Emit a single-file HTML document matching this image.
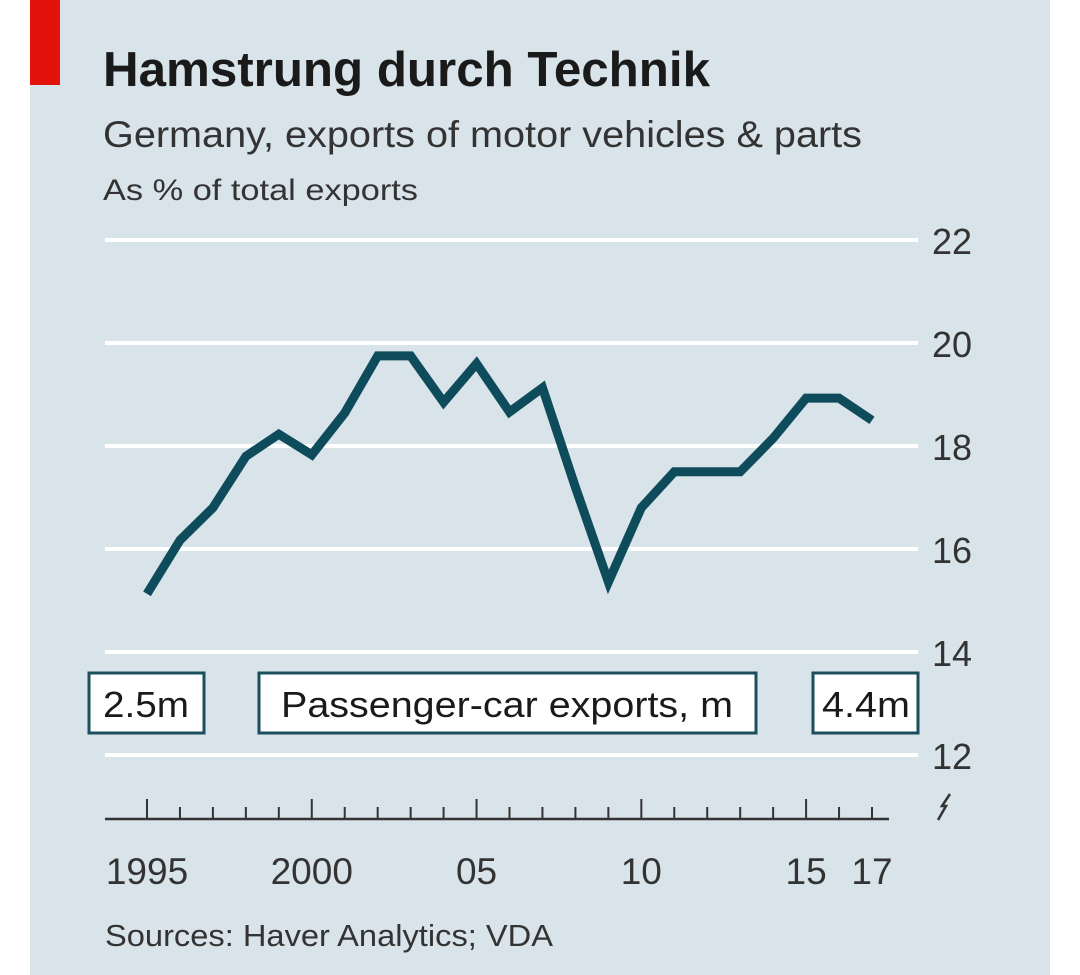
<!DOCTYPE html>
<html><head><meta charset="utf-8"><style>
body{margin:0;background:#fff;}
#wrap{position:relative;width:1080px;height:975px;overflow:hidden;background:#fff;}
svg text{font-family:"Liberation Sans",sans-serif;}
</style></head><body>
<div id="wrap">
<svg id="chart" width="1080" height="975">
<rect x="30" y="0" width="1020" height="975" fill="#d8e3ea"/>
<rect x="30" y="0" width="30" height="85" fill="#e3120b"/>
<text x="103" y="86" font-size="49" font-weight="bold" fill="#1a1a1a" textLength="607" lengthAdjust="spacingAndGlyphs">Hamstrung durch Technik</text>
<text x="103" y="147" font-size="37" fill="#333" textLength="759" lengthAdjust="spacingAndGlyphs">Germany, exports of motor vehicles &amp; parts</text>
<text x="103" y="200" font-size="30" fill="#333" textLength="315" lengthAdjust="spacingAndGlyphs">As % of total exports</text>
<g id="grid"></g>
<g id="xaxis"></g>
<path id="line" fill="none" stroke="#0e4c5c" stroke-width="9" stroke-linejoin="miter"/>
<g>
<rect x="89" y="673" width="115" height="60" fill="#fff" stroke="#1b4f5e" stroke-width="3"/>
<text x="146" y="717" font-size="36" text-anchor="middle" fill="#1a1a1a" textLength="86" lengthAdjust="spacingAndGlyphs">2.5m</text>
<rect x="259" y="673" width="497" height="60" fill="#fff" stroke="#1b4f5e" stroke-width="3"/>
<text x="507" y="717" font-size="36" text-anchor="middle" fill="#1a1a1a" textLength="452" lengthAdjust="spacingAndGlyphs">Passenger-car exports, m</text>
<rect x="813" y="673" width="105" height="60" fill="#fff" stroke="#1b4f5e" stroke-width="3"/>
<text x="866" y="717" font-size="36" text-anchor="middle" fill="#1a1a1a" textLength="88" lengthAdjust="spacingAndGlyphs">4.4m</text>
</g>
<path d="M938 820 L946 806 L942 806 L950 794" fill="none" stroke="#333" stroke-width="2.5"/>
<text x="105" y="946" font-size="31" fill="#333" textLength="448" lengthAdjust="spacingAndGlyphs">Sources: Haver Analytics; VDA</text>
</svg>
</div>
<script>
const years=[1995,1996,1997,1998,1999,2000,2001,2002,2003,2004,2005,2006,2007,2008,2009,2010,2011,2012,2013,2014,2015,2016,2017];
const shareValues=[15.13,16.17,16.8,17.8,18.23,17.83,18.64,19.75,19.75,18.85,19.6,18.66,19.13,17.2,15.36,16.8,17.5,17.5,17.5,18.15,18.93,18.93,18.5];
const yTicks=[12,14,16,18,20,22];
const xLabelYears=[1995,2000,2005,2010,2015,2017];
const xLabelText=["1995","2000","05","10","15","17"];
const NS="http://www.w3.org/2000/svg";
function xs(yr){return 147+(yr-1995)*(872-147)/22;}
function ys(v){return 755-(v-12)*(755-240)/10;}
const grid=document.getElementById('grid');
yTicks.forEach(t=>{
 const l=document.createElementNS(NS,'line');
 l.setAttribute('x1',105);l.setAttribute('x2',918);
 l.setAttribute('y1',ys(t));l.setAttribute('y2',ys(t));
 l.setAttribute('stroke','#fff');l.setAttribute('stroke-width',4);
 
 
 grid.appendChild(l);
 const tx=document.createElementNS(NS,'text');
 tx.setAttribute('x',972);tx.setAttribute('y',ys(t)+14);
 tx.setAttribute('text-anchor','end');tx.setAttribute('font-size',36);tx.setAttribute('fill','#333');
 tx.textContent=t;
 
 
 grid.appendChild(tx);
});
const xa=document.getElementById('xaxis');
const ax=document.createElementNS(NS,'line');
ax.setAttribute('x1',105);ax.setAttribute('x2',889);ax.setAttribute('y1',819);ax.setAttribute('y2',819);
ax.setAttribute('stroke','#333');ax.setAttribute('stroke-width',2.5);


xa.appendChild(ax);
years.forEach(yr=>{
 const major=(yr%5===0);
 const t=document.createElementNS(NS,'line');
 t.setAttribute('x1',xs(yr));t.setAttribute('x2',xs(yr));
 t.setAttribute('y1',major?799:807);t.setAttribute('y2',819);
 t.setAttribute('stroke','#333');t.setAttribute('stroke-width',2);
 
 
 xa.appendChild(t);
});
xLabelYears.forEach((yr,i)=>{
 const tx=document.createElementNS(NS,'text');
 tx.setAttribute('x',xs(yr));tx.setAttribute('y',884);
 tx.setAttribute('text-anchor','middle');tx.setAttribute('font-size',37);tx.setAttribute('fill','#333');
 tx.textContent=xLabelText[i];
 
 
 xa.appendChild(tx);
});
document.getElementById('line').setAttribute('d',years.map((yr,i)=>(i?'L':'M')+xs(yr).toFixed(1)+' '+ys(shareValues[i]).toFixed(1)).join(' '));
</script>
</body></html>
